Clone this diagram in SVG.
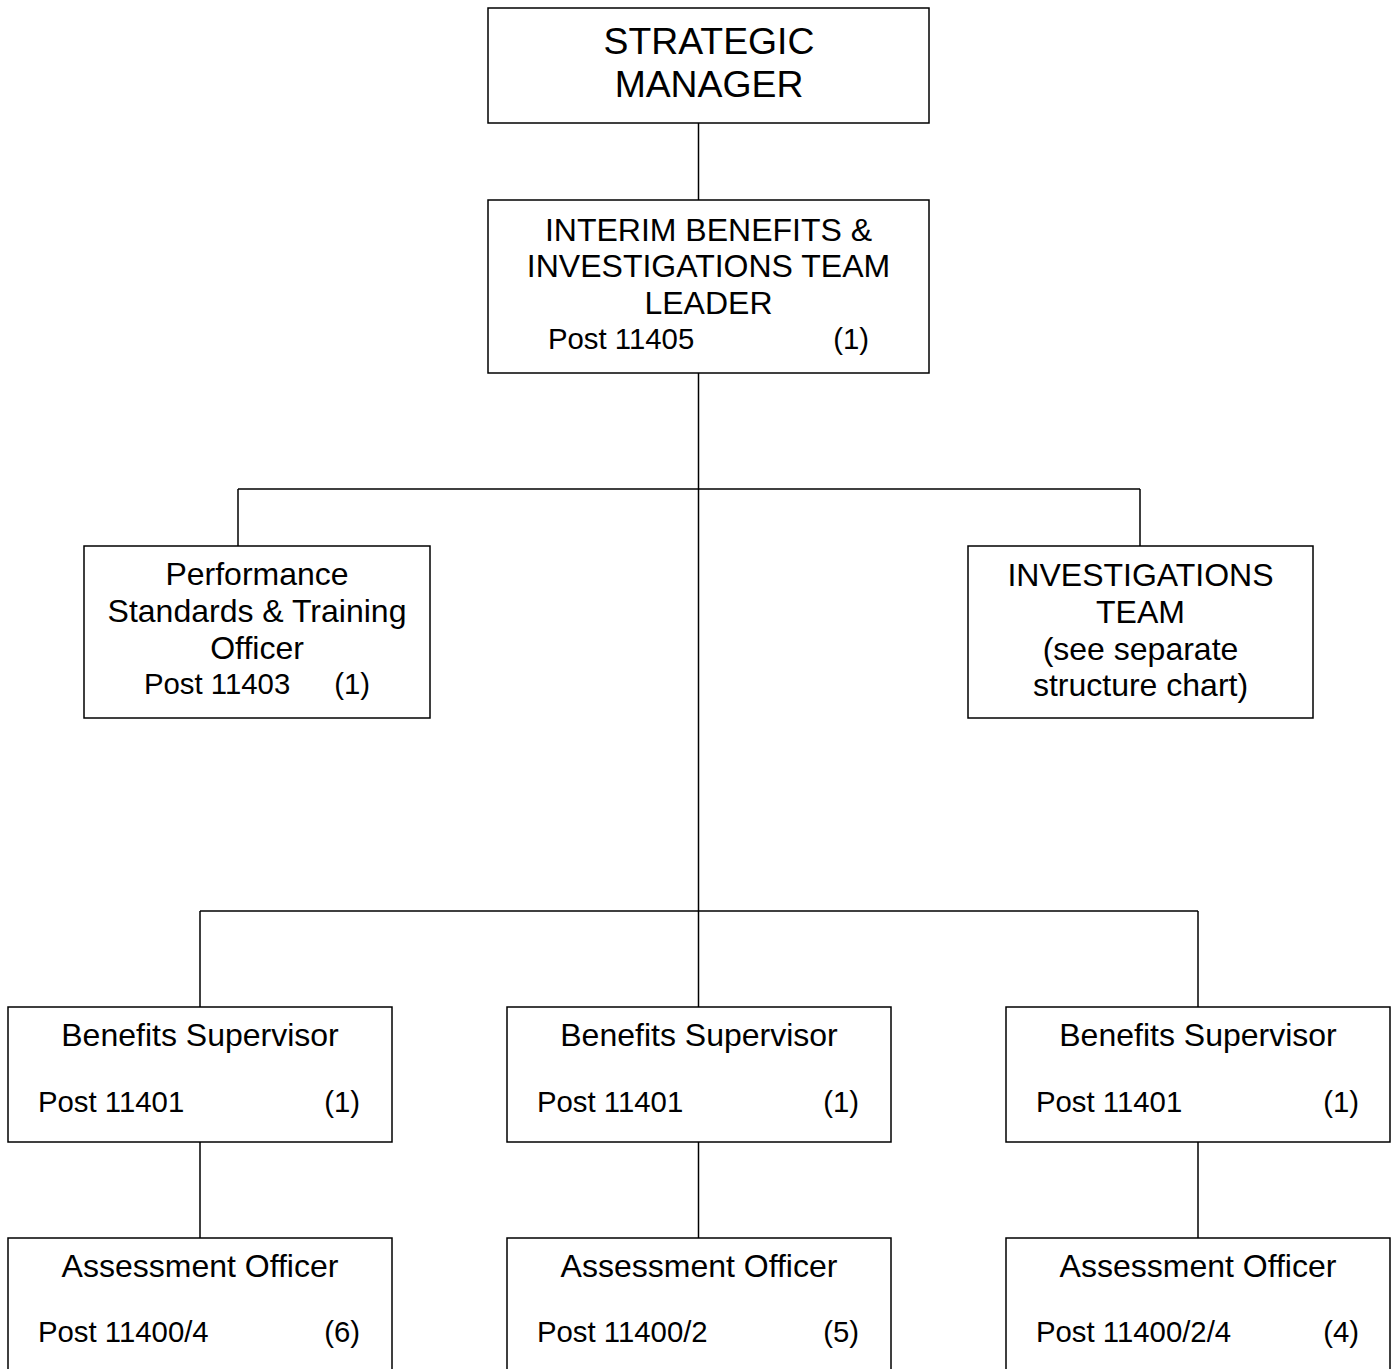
<svg xmlns="http://www.w3.org/2000/svg" width="1396" height="1369" viewBox="0 0 1396 1369">
<style>
rect{fill:#fff;stroke:#000;stroke-width:1.5}
.c line{stroke:#000;stroke-width:1.5}
text{font-family:"Liberation Sans",Arial,sans-serif;fill:#000;font-size:32px}
.t{font-size:37.33px;text-anchor:middle}
.m{text-anchor:middle}
.p{font-size:29.33px}
.e{font-size:29.33px;text-anchor:end}
</style>
<rect width="1396" height="1369" style="stroke:none"/>
<g class="c" id="connectors">
<line x1="698.5" y1="123" x2="698.5" y2="200"/>
<line x1="698.5" y1="373" x2="698.5" y2="1007"/>
<line x1="238" y1="489" x2="1140" y2="489"/>
<line x1="238" y1="489" x2="238" y2="546"/>
<line x1="1140" y1="489" x2="1140" y2="546"/>
<line x1="200" y1="911" x2="1198" y2="911"/>
<line x1="200" y1="911" x2="200" y2="1007"/>
<line x1="1198" y1="911" x2="1198" y2="1007"/>
<line x1="200" y1="1142" x2="200" y2="1238"/>
<line x1="698.5" y1="1142" x2="698.5" y2="1238"/>
<line x1="1198" y1="1142" x2="1198" y2="1238"/>
</g>
<g id="strategic">
<rect x="488" y="8" width="441" height="115"/>
<text class="t" x="709" y="54">STRATEGIC</text>
<text class="t" x="709" y="97">MANAGER</text>
</g>
<g id="interim">
<rect x="488" y="200" width="441" height="173"/>
<text class="m" x="708.5" y="241">INTERIM BENEFITS &amp;</text>
<text class="m" x="708.5" y="277">INVESTIGATIONS TEAM</text>
<text class="m" x="708.5" y="314">LEADER</text>
<text class="p" x="548" y="349">Post 11405</text>
<text class="e" x="869" y="349">(1)</text>
</g>
<g id="performance">
<rect x="84" y="546" width="346" height="172"/>
<text class="m" x="257" y="585">Performance</text>
<text class="m" x="257" y="622">Standards &amp; Training</text>
<text class="m" x="257" y="659">Officer</text>
<text class="p" x="144" y="694">Post 11403</text>
<text class="e" x="370" y="694">(1)</text>
</g>
<g id="investigations">
<rect x="968" y="546" width="345" height="172"/>
<text class="m" x="1140.5" y="586">INVESTIGATIONS</text>
<text class="m" x="1140.5" y="623">TEAM</text>
<text class="m" x="1140.5" y="660">(see separate</text>
<text class="m" x="1140.5" y="696">structure chart)</text>
</g>
<g id="supervisor1">
<rect x="8" y="1007" width="384" height="135"/>
<text class="m" x="200" y="1046">Benefits Supervisor</text>
<text class="p" x="38" y="1112">Post 11401</text>
<text class="e" x="360" y="1112">(1)</text>
</g>
<g id="supervisor2">
<rect x="507" y="1007" width="384" height="135"/>
<text class="m" x="699" y="1046">Benefits Supervisor</text>
<text class="p" x="537" y="1112">Post 11401</text>
<text class="e" x="859" y="1112">(1)</text>
</g>
<g id="supervisor3">
<rect x="1006" y="1007" width="384" height="135"/>
<text class="m" x="1198" y="1046">Benefits Supervisor</text>
<text class="p" x="1036" y="1112">Post 11401</text>
<text class="e" x="1359" y="1112">(1)</text>
</g>
<g id="assessment1">
<rect x="8" y="1238" width="384" height="150"/>
<text class="m" x="200" y="1277">Assessment Officer</text>
<text class="p" x="38" y="1342">Post 11400/4</text>
<text class="e" x="360" y="1342">(6)</text>
</g>
<g id="assessment2">
<rect x="507" y="1238" width="384" height="150"/>
<text class="m" x="699" y="1277">Assessment Officer</text>
<text class="p" x="537" y="1342">Post 11400/2</text>
<text class="e" x="859" y="1342">(5)</text>
</g>
<g id="assessment3">
<rect x="1006" y="1238" width="384" height="150"/>
<text class="m" x="1198" y="1277">Assessment Officer</text>
<text class="p" x="1036" y="1342">Post 11400/2/4</text>
<text class="e" x="1359" y="1342">(4)</text>
</g>
</svg>
